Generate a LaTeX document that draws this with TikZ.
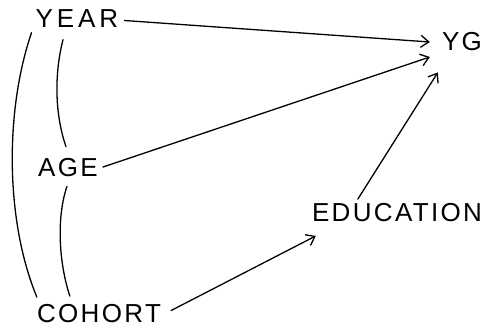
\documentclass[tikz,border=0pt]{standalone}
\usepackage{fontspec}
\newfontfamily\labfont{Liberation Sans}
\usetikzlibrary{arrows.meta,calc}
\begin{document}
\begin{tikzpicture}[x=1pt,y=-1pt,
  lab/.style={inner sep=0pt,font=\labfont\fontsize{26}{30}\selectfont},
  wide/.style={font=\labfont\addfontfeature{LetterSpace=15}\fontsize{26}{30}\selectfont},
  mid/.style={font=\labfont\addfontfeature{LetterSpace=9}\fontsize{26}{30}\selectfont},
  conn/.style={line width=1.3pt,line cap=round},
  arr/.style={conn,-{Straight Barb[length=8pt,width=12pt,line width=1.3pt]}}]
\useasboundingbox (0,0) rectangle (490,327);
\node[lab,wide] (year) at (77,18.5) {YEAR};
\node[lab,mid] (yg) at (462,42) {YG};
\node[lab,mid] (age) at (68,168) {AGE};
\node[lab,mid] (edu) at (397,212.5) {EDUCATION};
\node[lab,mid] (coh) at (99,313.5) {COHORT};
% arrows
\draw[arr] ($(year.east)+(6,2)$) -- ($(yg.west)+(-12,0)$);
\draw[arr] ($(age.east)+(5,-1)$) -- ($(yg.west)+(-12,15)$);
\draw[arr] ($(edu.north west)+(46,-4)$) -- ($(yg.south west)+(-4,21)$);
\draw[arr] ($(coh.east)+(10,-3)$) -- ($(edu.south west)+(4,14)$);
% curved links
\draw[conn] ($(year.south west)+(-4,5)$) .. controls (5,110) and (5,220) .. ($(coh.north west)+(0,-7)$);
\draw[conn] ($(year.south)+(-14,12)$) .. controls (54,75) and (55,115) .. ($(age.north)+(-2,-12)$);
\draw[conn] ($(age.south)+(-1,9)$) .. controls (57,215) and (58,260) .. ($(coh.north west)+(33,-8)$);
\end{tikzpicture}
\end{document}
